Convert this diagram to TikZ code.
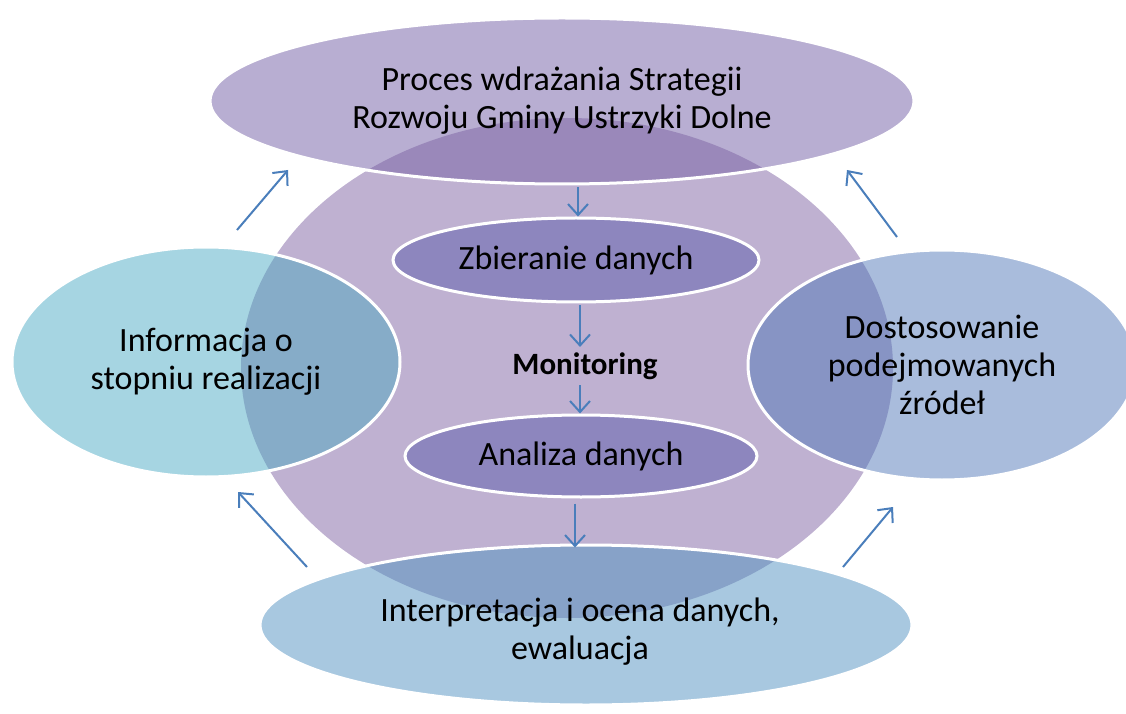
\documentclass[tikz,border=0pt]{standalone}
\usepackage{fontspec}
\setmainfont{Carlito}
\usetikzlibrary{shapes.geometric,arrows.meta,calc}
\definecolor{cmain}{HTML}{BFB1D1}
\definecolor{ctop}{HTML}{B8AED2}
\definecolor{cleft}{HTML}{A6D5E2}
\definecolor{cright}{HTML}{A9BCDC}
\definecolor{cbot}{HTML}{A8C8E0}
\definecolor{otop}{HTML}{9A88BA}
\definecolor{oleft}{HTML}{86ACC8}
\definecolor{oright}{HTML}{8794C4}
\definecolor{obot}{HTML}{87A2C8}
\definecolor{csmall}{HTML}{8D86BE}
\definecolor{carrow}{HTML}{4A7EBB}
\tikzset{
  ell/.style={ellipse, inner sep=0pt, align=center, font=\fontsize{34}{38}\selectfont},
  outer/.style={ell, draw=white, line width=3pt},
  small/.style={ell, draw=white, line width=3pt, fill=csmall},
  arr/.style={draw=carrow, line width=2pt, -{Straight Barb[length=11pt,width=20pt,line width=2pt]}},
}
\begin{document}
\begin{tikzpicture}[x=1pt,y=1pt]
\useasboundingbox (0,0) rectangle (1126,713);
% main circle
\fill[cmain] (567,345) ellipse [x radius=326, y radius=250];
% outer fills
\fill[ctop] (562,612) ellipse [x radius=352, y radius=83];
\fill[cleft] (206,351) ellipse [x radius=194, y radius=115];
\fill[cright] (942,348) ellipse [x radius=194, y radius=115];
\fill[cbot] (586,88) ellipse [x radius=326, y radius=80];
% overlaps
\begin{scope}
\clip (567,345) ellipse [x radius=326, y radius=250];
\fill[otop] (562,612) ellipse [x radius=352, y radius=83];
\fill[oleft] (206,351) ellipse [x radius=194, y radius=115];
\fill[oright] (942,348) ellipse [x radius=194, y radius=115];
\fill[obot] (586,88) ellipse [x radius=326, y radius=80];
\end{scope}
% outer nodes with borders and text
\node[outer, minimum width=704pt, minimum height=166pt] (T) at (562,612) {Proces wdrażania Strategii\\Rozwoju Gminy Ustrzyki Dolne};
\node[outer, minimum width=388pt, minimum height=230pt] (L) at (206,351) {Informacja o\\stopniu realizacji};
\node[outer, minimum width=388pt, minimum height=230pt] (R) at (942,348) {Dostosowanie\\podejmowanych\\źródeł};
\node[outer, minimum width=652pt, minimum height=160pt] (B) at (586,88) {};
\node[ell] (Bt) at (580,81) {Interpretacja i ocena danych,\\ewaluacja};
% inner
\node[small, minimum width=366pt, minimum height=84pt] (Z) at (576,453) {Zbieranie danych};
\node[small, minimum width=352pt, minimum height=82pt] (A) at (581,257) {Analiza danych};
\node[font=\fontsize{31}{34}\selectfont\bfseries] (M) at (585,347) {Monitoring};
% arrows
\draw[arr] ($(Z.north |- T.south)+(2,-2)$) -- ($(Z.north)+(2,0)$);
\draw[arr] ($(Z.south)+(4,-2)$) -- ($(M.north)+(-5,2)$);
\draw[arr] ($(M.south)+(-5,-2)$) -- ($(A.north)+(-1,0)$);
\draw[arr] ($(A.south)+(-6,-5)$) -- ($(B.north)+(-11,-4)$);
\coordinate (l1s) at (237,483);
\coordinate (l1e) at (288,543);
\coordinate (l2s) at (307,146);
\coordinate (l2e) at (238,221);
\coordinate (r1s) at (897,476);
\coordinate (r1e) at (847,543);
\coordinate (r2s) at (843,146);
\coordinate (r2e) at (893,206);
\draw[arr] (l1s) -- (l1e);
\draw[arr] (l2s) -- (l2e);
\draw[arr] (r1s) -- (r1e);
\draw[arr] (r2s) -- (r2e);
\end{tikzpicture}
\end{document}
